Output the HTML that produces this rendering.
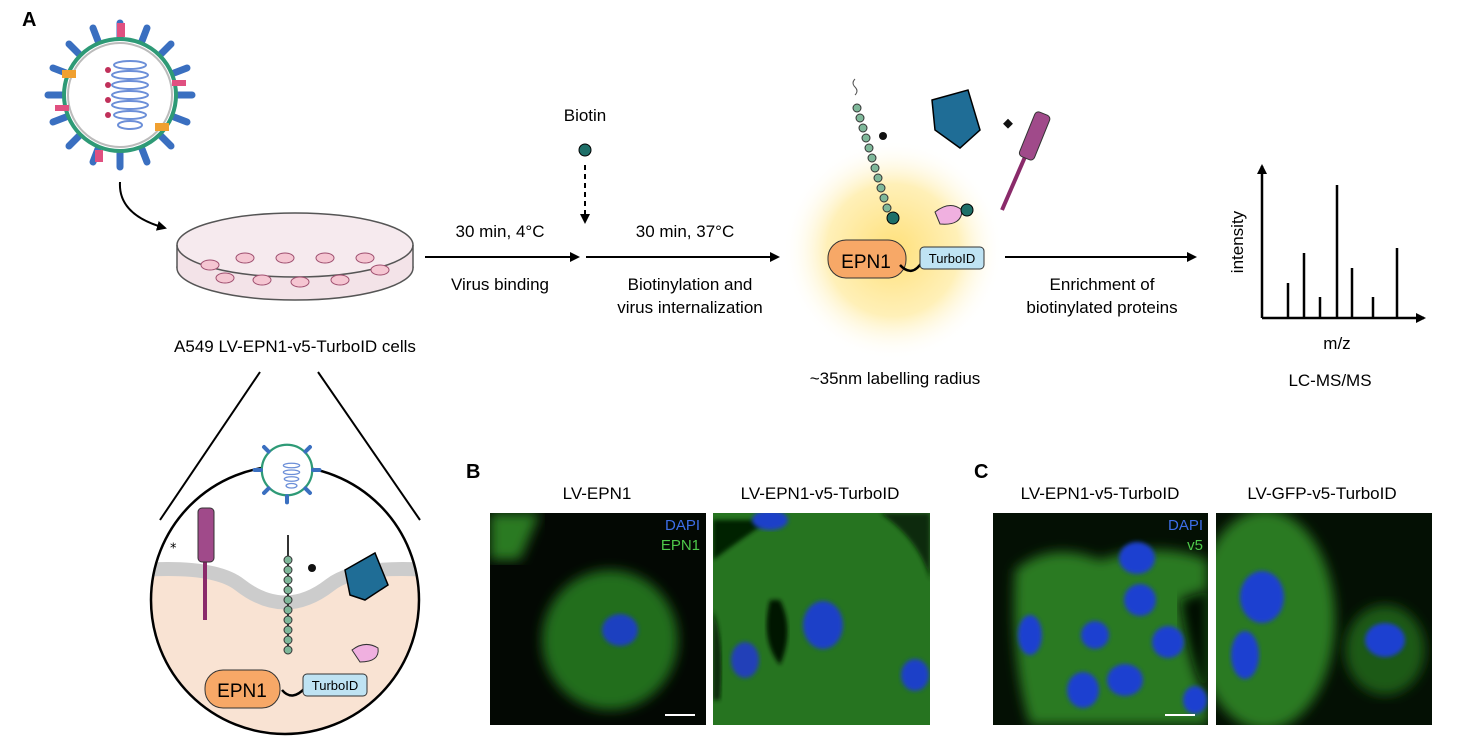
<!DOCTYPE html>
<html><head><meta charset="utf-8">
<style>
html,body{margin:0;padding:0;background:#fff;}
svg{display:block;font-family:"Liberation Sans",Arial,sans-serif;}
</style></head>
<body>
<svg width="1468" height="738" viewBox="0 0 1468 738" xmlns="http://www.w3.org/2000/svg">
<defs>
<marker id="ah" markerWidth="10" markerHeight="10" refX="8" refY="5" orient="auto" markerUnits="userSpaceOnUse">
<path d="M0,0 L10,5 L0,10 z" fill="#000"/></marker>
<radialGradient id="glow"><stop offset="0" stop-color="#ffe07a"/><stop offset="0.6" stop-color="#fff0b8"/><stop offset="1" stop-color="#fff" stop-opacity="0"/></radialGradient>
<filter id="bl"><feGaussianBlur stdDeviation="6"/></filter>
<filter id="bl2"><feGaussianBlur stdDeviation="2"/></filter>
<clipPath id="cc"><circle cx="285" cy="600" r="134"/></clipPath>
<clipPath id="i1"><rect x="490" y="513" width="216" height="212"/></clipPath>
<clipPath id="i2"><rect x="713" y="513" width="217" height="212"/></clipPath>
<clipPath id="i3"><rect x="993" y="513" width="215" height="212"/></clipPath>
<clipPath id="i4"><rect x="1216" y="513" width="216" height="212"/></clipPath>
</defs>

<text x="22" y="26" font-size="20" font-weight="bold">A</text>

<g transform="translate(120,95)">
<g stroke="#3a6fc0" stroke-width="7" stroke-linecap="round">
<line x1="0" y1="-58" x2="0" y2="-72"/><line x1="0" y1="58" x2="0" y2="72"/>
<line x1="-58" y1="0" x2="-72" y2="0"/><line x1="58" y1="0" x2="72" y2="0"/>
<line x1="41" y1="41" x2="51" y2="51"/><line x1="-41" y1="41" x2="-51" y2="51"/>
<line x1="41" y1="-41" x2="51" y2="-51"/><line x1="-41" y1="-41" x2="-51" y2="-51"/>
<line x1="22" y1="-54" x2="27" y2="-67"/><line x1="-22" y1="-54" x2="-27" y2="-67"/>
<line x1="22" y1="54" x2="27" y2="67"/><line x1="-22" y1="54" x2="-27" y2="67"/>
<line x1="54" y1="22" x2="67" y2="27"/><line x1="-54" y1="22" x2="-67" y2="27"/>
<line x1="54" y1="-22" x2="67" y2="-27"/><line x1="-54" y1="-22" x2="-67" y2="-27"/>
</g>
<circle r="56" fill="#fff" stroke="#2e9a76" stroke-width="4"/>
<circle r="52" fill="none" stroke="#bbb" stroke-width="2"/>
<g fill="none" stroke="#6c8fd8" stroke-width="2">
<ellipse cx="10" cy="-30" rx="16" ry="4"/><ellipse cx="10" cy="-20" rx="18" ry="4"/><ellipse cx="10" cy="-10" rx="18" ry="4"/><ellipse cx="10" cy="0" rx="18" ry="4"/><ellipse cx="10" cy="10" rx="18" ry="4"/><ellipse cx="10" cy="20" rx="16" ry="4"/><ellipse cx="10" cy="30" rx="12" ry="4"/>
</g>
<g fill="#c0305a"><circle cx="-12" cy="-25" r="3"/><circle cx="-12" cy="-10" r="3"/><circle cx="-12" cy="5" r="3"/><circle cx="-12" cy="20" r="3"/></g>
<g fill="#e05080"><rect x="-3" y="-72" width="8" height="14"/><rect x="-65" y="10" width="14" height="6"/><rect x="52" y="-15" width="14" height="6"/><rect x="-25" y="55" width="8" height="12"/></g>
<g fill="#f0a030"><rect x="-58" y="-25" width="14" height="8"/><rect x="35" y="28" width="14" height="8"/></g>
</g>
<path d="M120,182 Q118,215 165,228" fill="none" stroke="#000" stroke-width="2" marker-end="url(#ah)"/>

<ellipse cx="295" cy="268" rx="118" ry="32" fill="#f3e3e8" stroke="#555" stroke-width="1.5"/>
<rect x="177" y="245" width="236" height="23" fill="#f3e3e8"/>
<ellipse cx="295" cy="245" rx="118" ry="32" fill="#f6eaee" stroke="#555" stroke-width="1.5"/>
<line x1="177" y1="245" x2="177" y2="268" stroke="#555" stroke-width="1.5"/>
<line x1="413" y1="245" x2="413" y2="268" stroke="#555" stroke-width="1.5"/>
<g fill="#f5c6d2" stroke="#a05070" stroke-width="1">
<ellipse cx="210" cy="265" rx="9" ry="5"/><ellipse cx="245" cy="258" rx="9" ry="5"/><ellipse cx="285" cy="258" rx="9" ry="5"/><ellipse cx="325" cy="258" rx="9" ry="5"/><ellipse cx="365" cy="258" rx="9" ry="5"/><ellipse cx="225" cy="278" rx="9" ry="5"/><ellipse cx="262" cy="280" rx="9" ry="5"/><ellipse cx="300" cy="282" rx="9" ry="5"/><ellipse cx="340" cy="280" rx="9" ry="5"/><ellipse cx="380" cy="270" rx="9" ry="5"/>
</g>
<text x="295" y="352" font-size="17" text-anchor="middle">A549 LV-EPN1-v5-TurboID cells</text>
<line x1="260" y1="372" x2="160" y2="520" stroke="#000" stroke-width="2"/>
<line x1="318" y1="372" x2="420" y2="520" stroke="#000" stroke-width="2"/>

<g clip-path="url(#cc)">
<rect x="150" y="465" width="270" height="270" fill="#fff"/>
<path d="M140,575 Q215,570 240,590 Q285,625 330,590 Q355,570 430,575 L430,740 L140,740z" fill="#f9e3d3"/>
<path d="M140,570 Q215,565 240,585 Q285,620 330,585 Q355,565 430,570" fill="none" stroke="#ccc" stroke-width="14"/>
</g>
<circle cx="285" cy="600" r="134" fill="none" stroke="#000" stroke-width="2.5"/>
<g transform="translate(287,470) scale(0.45)">
<circle r="56" fill="#fff" stroke="#2e9a76" stroke-width="5"/>
<g stroke="#3a6fc0" stroke-width="9" stroke-linecap="round"><line x1="-58" y1="0" x2="-72" y2="0"/><line x1="58" y1="0" x2="72" y2="0"/><line x1="41" y1="41" x2="51" y2="51"/><line x1="-41" y1="41" x2="-51" y2="51"/><line x1="41" y1="-41" x2="51" y2="-51"/><line x1="-41" y1="-41" x2="-51" y2="-51"/><line x1="0" y1="58" x2="0" y2="72"/></g>
<g fill="none" stroke="#6c8fd8" stroke-width="3"><ellipse cx="10" cy="-10" rx="18" ry="5"/><ellipse cx="10" cy="5" rx="18" ry="5"/><ellipse cx="10" cy="20" rx="16" ry="5"/><ellipse cx="10" cy="35" rx="12" ry="5"/></g>
</g>
<line x1="205" y1="555" x2="205" y2="620" stroke="#8a2a6a" stroke-width="4"/>
<rect x="198" y="508" width="16" height="54" rx="4" fill="#a04a8a" stroke="#333"/>
<text x="170" y="548" font-size="13">⁎</text>
<line x1="288" y1="535" x2="288" y2="650" stroke="#333" stroke-width="2"/>
<g fill="#7fb89a" stroke="#333"><circle cx="288" cy="560" r="4"/><circle cx="288" cy="570" r="4"/><circle cx="288" cy="580" r="4"/><circle cx="288" cy="590" r="4"/><circle cx="288" cy="600" r="4"/><circle cx="288" cy="610" r="4"/><circle cx="288" cy="620" r="4"/><circle cx="288" cy="630" r="4"/><circle cx="288" cy="640" r="4"/><circle cx="288" cy="650" r="4"/></g>
<circle cx="312" cy="568" r="4" fill="#111"/>
<path d="M345,570 L375,553 L388,585 L365,600 L350,595z" fill="#1f6d96" stroke="#000" stroke-width="1.5"/>
<path d="M352,650 Q365,640 378,648 Q380,662 360,662z" fill="#f0b0e0" stroke="#333"/>
<rect x="205" y="670" width="75" height="38" rx="18" fill="#f7a867" stroke="#333"/>
<text x="242" y="697" font-size="19" text-anchor="middle">EPN1</text>
<path d="M282,690 Q292,702 305,688" fill="none" stroke="#000" stroke-width="2.5"/>
<rect x="303" y="674" width="64" height="22" rx="4" fill="#bfe3f3" stroke="#333"/>
<text x="335" y="690" font-size="13" text-anchor="middle">TurboID</text>

<line x1="425" y1="257" x2="578" y2="257" stroke="#000" stroke-width="2" marker-end="url(#ah)"/>
<text x="500" y="237" font-size="17" text-anchor="middle">30 min, 4°C</text>
<text x="500" y="290" font-size="17" text-anchor="middle">Virus binding</text>
<text x="585" y="121" font-size="17" text-anchor="middle">Biotin</text>
<circle cx="585" cy="150" r="6" fill="#1e6f68" stroke="#000"/>
<line x1="585" y1="165" x2="585" y2="222" stroke="#000" stroke-width="2" stroke-dasharray="5,4" marker-end="url(#ah)"/>
<line x1="586" y1="257" x2="778" y2="257" stroke="#000" stroke-width="2" marker-end="url(#ah)"/>
<text x="685" y="237" font-size="17" text-anchor="middle">30 min, 37°C</text>
<text x="690" y="290" font-size="17" text-anchor="middle">Biotinylation and</text>
<text x="690" y="313" font-size="17" text-anchor="middle">virus internalization</text>

<circle cx="893" cy="250" r="110" fill="url(#glow)"/>
<path d="M855,95 q4,-4 0,-8 q-4,-4 0,-8" fill="none" stroke="#555"/>
<g fill="#7fb89a" stroke="#333"><circle cx="857" cy="108" r="4"/><circle cx="860" cy="118" r="4"/><circle cx="863" cy="128" r="4"/><circle cx="866" cy="138" r="4"/><circle cx="869" cy="148" r="4"/><circle cx="872" cy="158" r="4"/><circle cx="875" cy="168" r="4"/><circle cx="878" cy="178" r="4"/><circle cx="881" cy="188" r="4"/><circle cx="884" cy="198" r="4"/><circle cx="887" cy="208" r="4"/></g>
<circle cx="893" cy="218" r="6" fill="#1e6f68" stroke="#000"/>
<circle cx="883" cy="136" r="4" fill="#111"/>
<path d="M932,100 L968,90 L980,130 L960,148 L935,130z" fill="#1f6d96" stroke="#000" stroke-width="1.5"/>
<path d="M935,212 Q950,200 962,210 Q962,226 940,224z" fill="#f0b0e0" stroke="#333"/>
<circle cx="967" cy="210" r="6" fill="#1e6f68" stroke="#000"/>
<line x1="1002" y1="210" x2="1028" y2="150" stroke="#8a2a6a" stroke-width="4"/>
<g transform="rotate(22 1035 135)"><rect x="1027" y="112" width="16" height="48" rx="4" fill="#a04a8a" stroke="#333"/></g>
<rect x="1005" y="120" width="7" height="7" fill="#111" transform="rotate(45 1008 123)"/>
<rect x="828" y="240" width="78" height="38" rx="18" fill="#f7a867" stroke="#333"/>
<text x="866" y="268" font-size="19" text-anchor="middle">EPN1</text>
<path d="M900,265 Q912,278 922,262" fill="none" stroke="#000" stroke-width="2.5"/>
<rect x="920" y="247" width="64" height="22" rx="4" fill="#bfe3f3" stroke="#333"/>
<text x="952" y="263" font-size="13" text-anchor="middle">TurboID</text>
<text x="895" y="384" font-size="17" text-anchor="middle">~35nm labelling radius</text>

<line x1="1005" y1="257" x2="1195" y2="257" stroke="#000" stroke-width="2" marker-end="url(#ah)"/>
<text x="1102" y="290" font-size="17" text-anchor="middle">Enrichment of</text>
<text x="1102" y="313" font-size="17" text-anchor="middle">biotinylated proteins</text>

<line x1="1262" y1="318" x2="1262" y2="166" stroke="#000" stroke-width="2.5" marker-end="url(#ah)"/>
<line x1="1262" y1="318" x2="1424" y2="318" stroke="#000" stroke-width="2.5" marker-end="url(#ah)"/>
<g stroke="#000" stroke-width="2.5"><line x1="1288" y1="318" x2="1288" y2="283"/><line x1="1304" y1="318" x2="1304" y2="253"/><line x1="1320" y1="318" x2="1320" y2="297"/><line x1="1337" y1="318" x2="1337" y2="185"/><line x1="1352" y1="318" x2="1352" y2="268"/><line x1="1373" y1="318" x2="1373" y2="297"/><line x1="1397" y1="318" x2="1397" y2="248"/></g>
<text x="1243" y="242" font-size="17" text-anchor="middle" transform="rotate(-90 1243 242)">intensity</text>
<text x="1337" y="349" font-size="17" text-anchor="middle">m/z</text>
<text x="1330" y="386" font-size="17" text-anchor="middle">LC-MS/MS</text>

<text x="466" y="478" font-size="20" font-weight="bold">B</text>
<text x="597" y="499" font-size="17" text-anchor="middle">LV-EPN1</text>
<text x="820" y="499" font-size="17" text-anchor="middle">LV-EPN1-v5-TurboID</text>
<rect x="490" y="513" width="216" height="212" fill="#030803"/>
<g clip-path="url(#i1)">
<path d="M490,513 L540,513 L520,560 L490,560z" fill="#2c7a22" filter="url(#bl)"/>
<ellipse cx="610" cy="640" rx="68" ry="70" fill="#246e1e" filter="url(#bl)"/>
<ellipse cx="620" cy="630" rx="18" ry="16" fill="#1f3fc0" filter="url(#bl2)"/>
</g>
<text x="700" y="530" font-size="15" fill="#3d6ee8" text-anchor="end">DAPI</text>
<text x="700" y="550" font-size="15" fill="#4ec84a" text-anchor="end">EPN1</text>
<line x1="665" y1="715" x2="695" y2="715" stroke="#fff" stroke-width="2"/>
<rect x="713" y="513" width="217" height="212" fill="#267420"/>
<g clip-path="url(#i2)">
<path d="M713,560 Q740,540 770,520 L713,520z" fill="#062006" filter="url(#bl2)"/>
<path d="M770,600 Q760,640 780,665 Q795,630 780,600z" fill="#051505" filter="url(#bl2)"/>
<path d="M713,610 Q725,640 720,700 L713,700z" fill="#0a2a08" filter="url(#bl2)"/>
<path d="M880,513 Q920,540 930,580 L930,513z" fill="#0a2a08" filter="url(#bl2)"/>
<ellipse cx="823" cy="625" rx="20" ry="24" fill="#1f3fc8" filter="url(#bl2)"/>
<ellipse cx="745" cy="660" rx="14" ry="18" fill="#2040b8" filter="url(#bl2)"/>
<ellipse cx="770" cy="520" rx="18" ry="10" fill="#1f3fc8" filter="url(#bl2)"/>
<ellipse cx="915" cy="675" rx="14" ry="16" fill="#1f3fc8" filter="url(#bl2)"/>
</g>

<text x="974" y="478" font-size="20" font-weight="bold">C</text>
<text x="1100" y="499" font-size="17" text-anchor="middle">LV-EPN1-v5-TurboID</text>
<text x="1322" y="499" font-size="17" text-anchor="middle">LV-GFP-v5-TurboID</text>
<rect x="993" y="513" width="215" height="212" fill="#041004"/>
<g clip-path="url(#i3)">
<path d="M1015,570 Q1050,540 1100,560 Q1160,540 1208,560 L1208,725 L1030,725 Q1010,660 1015,570z" fill="#2a7a20" filter="url(#bl)"/>
<path d="M1180,600 L1208,590 L1208,700 Q1190,670 1180,600z" fill="#041004" filter="url(#bl)"/>
<g fill="#1f3fd0" filter="url(#bl2)">
<ellipse cx="1137" cy="558" rx="18" ry="16"/><ellipse cx="1030" cy="635" rx="12" ry="20"/><ellipse cx="1140" cy="600" rx="16" ry="16"/><ellipse cx="1168" cy="642" rx="16" ry="16"/><ellipse cx="1095" cy="635" rx="14" ry="14"/><ellipse cx="1125" cy="680" rx="18" ry="16"/><ellipse cx="1083" cy="690" rx="16" ry="18"/><ellipse cx="1195" cy="700" rx="12" ry="14"/>
</g>
</g>
<text x="1203" y="530" font-size="15" fill="#3d6ee8" text-anchor="end">DAPI</text>
<text x="1203" y="550" font-size="15" fill="#4ec84a" text-anchor="end">v5</text>
<line x1="1165" y1="715" x2="1195" y2="715" stroke="#fff" stroke-width="2"/>
<rect x="1216" y="513" width="216" height="212" fill="#041004"/>
<g clip-path="url(#i4)">
<ellipse cx="1265" cy="620" rx="70" ry="110" fill="#2a7a20" filter="url(#bl)"/>
<ellipse cx="1385" cy="650" rx="40" ry="45" fill="#1c5a18" filter="url(#bl)"/>
<ellipse cx="1262" cy="597" rx="22" ry="26" fill="#1f3fd0" filter="url(#bl2)"/>
<ellipse cx="1245" cy="655" rx="14" ry="24" fill="#1f3fd0" filter="url(#bl2)"/>
<ellipse cx="1385" cy="640" rx="20" ry="17" fill="#1f3fd0" filter="url(#bl2)"/>
</g>
</svg>
</body></html>
